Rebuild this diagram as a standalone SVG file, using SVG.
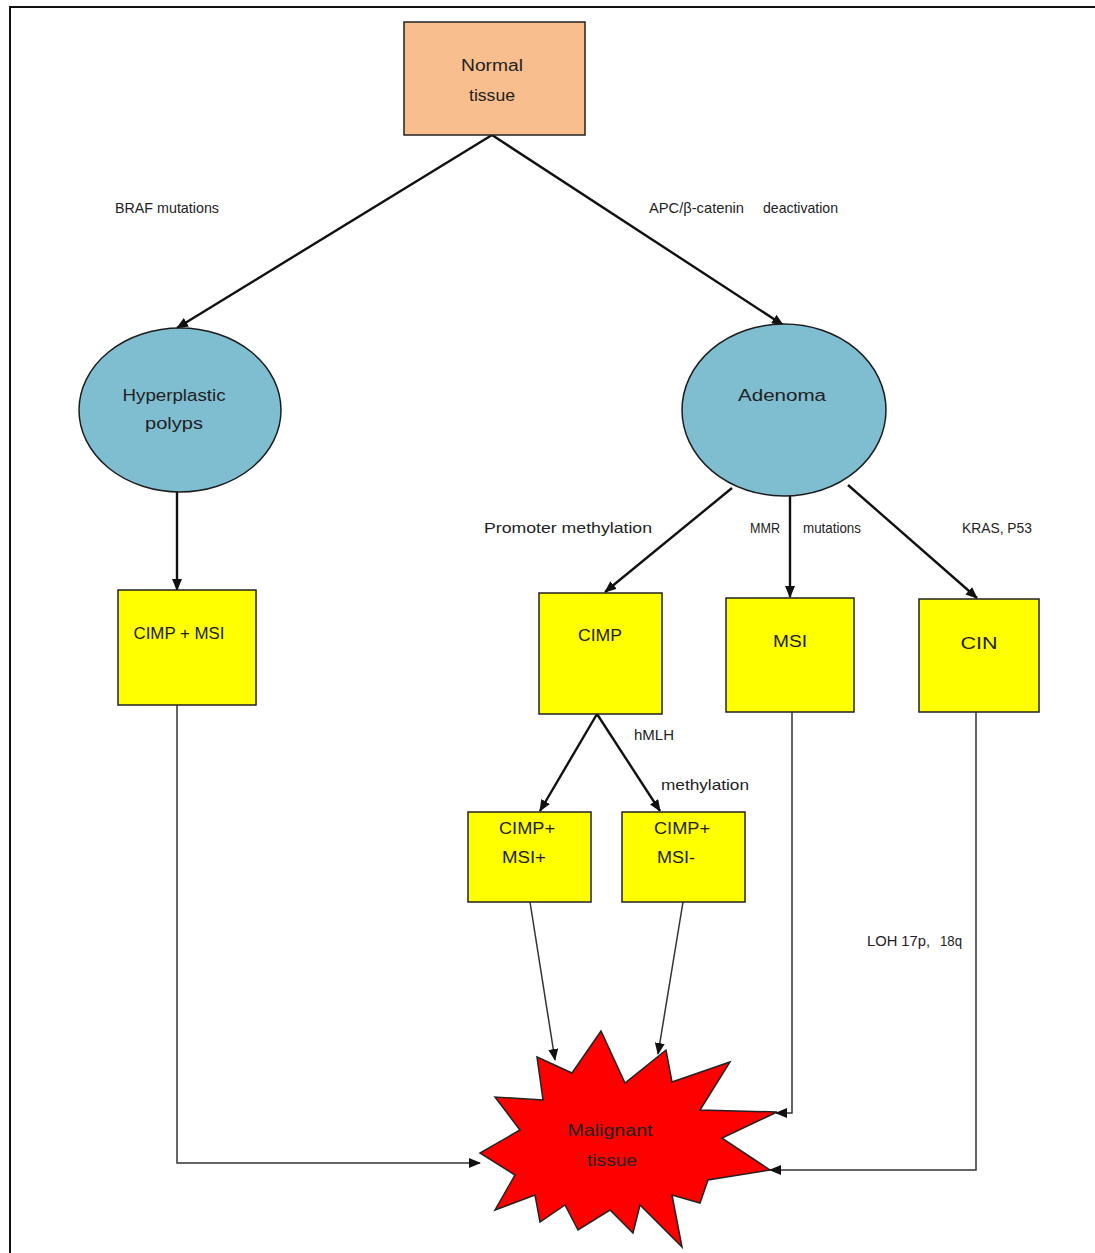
<svg xmlns="http://www.w3.org/2000/svg" width="1095" height="1253" viewBox="0 0 1095 1253">
<defs>
<marker id="ah" viewBox="0 0 12 10" refX="11" refY="5" markerWidth="12" markerHeight="10" markerUnits="userSpaceOnUse" orient="auto">
<path d="M0,0 L12,5 L0,10 z" fill="#111"/>
</marker>
</defs>
<style>
text{font-family:"Liberation Sans",Arial,sans-serif;font-size:16px;fill:#222}
.c{text-anchor:middle}
.box{stroke:#222;stroke-width:1.5}
.y{fill:#ffff00}
.el{fill:#7fbdd1;stroke:#1d1d1d;stroke-width:1.5}
.ln{fill:none;stroke:#111;stroke-width:2.4}
.ln1{fill:none;stroke:#333;stroke-width:1.5}
.lb{font-size:15px}
</style>
<rect width="1095" height="1253" fill="#fff"/>
<path d="M10,1253 V7 H1095" fill="none" stroke="#111" stroke-width="2"/>
<g id="connectors">
<line class="ln" x1="492" y1="135" x2="177" y2="328" marker-end="url(#ah)"/>
<line class="ln" x1="492" y1="135" x2="783" y2="325" marker-end="url(#ah)"/>
<line class="ln" x1="177" y1="492" x2="177" y2="590" marker-end="url(#ah)"/>
<line class="ln" x1="732" y1="488" x2="605" y2="592" marker-end="url(#ah)"/>
<line class="ln" x1="790" y1="496" x2="790" y2="597" marker-end="url(#ah)"/>
<line class="ln" x1="848" y1="485" x2="977" y2="598" marker-end="url(#ah)"/>
<line class="ln" x1="597" y1="714" x2="540" y2="811" marker-end="url(#ah)"/>
<line class="ln" x1="597" y1="714" x2="660" y2="811" marker-end="url(#ah)"/>
<line class="ln1" x1="530" y1="902" x2="555" y2="1060" marker-end="url(#ah)"/>
<line class="ln1" x1="683" y1="902" x2="658" y2="1054" marker-end="url(#ah)"/>
<polyline class="ln1" points="177,705 177,1163 480,1163" marker-end="url(#ah)"/>
<polyline class="ln1" points="792,712 792,1113 776,1113" marker-end="url(#ah)"/>
<polyline class="ln1" points="976,712 976,1170 770,1170" marker-end="url(#ah)"/>
</g>
<g id="labels">
<text class="lb" x="115" y="213" textLength="104" lengthAdjust="spacingAndGlyphs">BRAF mutations</text>
<text class="lb" x="649" y="213" textLength="95" lengthAdjust="spacingAndGlyphs">APC/β-catenin</text>
<text class="lb" x="763" y="213" textLength="75" lengthAdjust="spacingAndGlyphs">deactivation</text>
<text class="lb" x="484" y="533" textLength="168" lengthAdjust="spacingAndGlyphs">Promoter methylation</text>
<text class="lb" x="750" y="533" textLength="30" lengthAdjust="spacingAndGlyphs">MMR</text>
<text class="lb" x="803" y="533" textLength="58" lengthAdjust="spacingAndGlyphs">mutations</text>
<text class="lb" x="962" y="533" textLength="70" lengthAdjust="spacingAndGlyphs">KRAS, P53</text>
<text class="lb" x="634" y="740" textLength="40" lengthAdjust="spacingAndGlyphs">hMLH</text>
<text class="lb" x="661" y="790" textLength="88" lengthAdjust="spacingAndGlyphs">methylation</text>
<text class="lb" x="867" y="946" textLength="63" lengthAdjust="spacingAndGlyphs">LOH 17p,</text>
<text class="lb" x="940" y="946" textLength="22" lengthAdjust="spacingAndGlyphs">18q</text>
</g>
<g id="normal">
<rect class="box" x="404" y="22" width="181" height="113" fill="#f9be8e"/>
<text class="c" x="492" y="71" textLength="62" lengthAdjust="spacingAndGlyphs">Normal</text>
<text class="c" x="492" y="101" textLength="46" lengthAdjust="spacingAndGlyphs">tissue</text>
</g>
<g id="hyperplastic">
<ellipse class="el" cx="180" cy="410" rx="101" ry="82"/>
<text class="c" x="174" y="401" textLength="103" lengthAdjust="spacingAndGlyphs">Hyperplastic</text>
<text class="c" x="174" y="429" textLength="58" lengthAdjust="spacingAndGlyphs">polyps</text>
</g>
<g id="adenoma">
<ellipse class="el" cx="784" cy="410" rx="102" ry="86"/>
<text class="c" x="782" y="401" textLength="88" lengthAdjust="spacingAndGlyphs">Adenoma</text>
</g>
<g id="cimp-msi">
<rect class="box y" x="118" y="590" width="138" height="115"/>
<text class="c" x="179" y="639" textLength="91" lengthAdjust="spacingAndGlyphs">CIMP + MSI</text>
</g>
<g id="cimp">
<rect class="box y" x="539" y="593" width="123" height="121"/>
<text class="c" x="600" y="641" textLength="44" lengthAdjust="spacingAndGlyphs">CIMP</text>
</g>
<g id="msi">
<rect class="box y" x="726" y="598" width="128" height="114"/>
<text class="c" x="790" y="647" textLength="34" lengthAdjust="spacingAndGlyphs">MSI</text>
</g>
<g id="cin">
<rect class="box y" x="919" y="599" width="120" height="113"/>
<text class="c" x="979" y="649" textLength="37" lengthAdjust="spacingAndGlyphs">CIN</text>
</g>
<g id="cimp-msi-plus">
<rect class="box y" x="468" y="812" width="123" height="90"/>
<text class="c" x="527" y="834" textLength="56" lengthAdjust="spacingAndGlyphs">CIMP+</text>
<text class="c" x="524" y="863" textLength="44" lengthAdjust="spacingAndGlyphs">MSI+</text>
</g>
<g id="cimp-msi-minus">
<rect class="box y" x="622" y="812" width="123" height="90"/>
<text class="c" x="682" y="834" textLength="56" lengthAdjust="spacingAndGlyphs">CIMP+</text>
<text class="c" x="676" y="863" textLength="38" lengthAdjust="spacingAndGlyphs">MSI-</text>
</g>
<g id="malignant">
<polygon points="537,1057 572,1073 601,1031 625,1083 666,1050 672,1082 730,1062 700,1110 777,1112 722,1138 770,1170 708,1180 700,1203 672,1195 682,1247 640,1205 633,1233 610,1210 578,1230 565,1205 540,1222 535,1195 495,1210 515,1175 480,1153 520,1130 495,1097 543,1100" fill="#ff0000" stroke="#222" stroke-width="1.5" stroke-linejoin="miter"/>
<text class="c" x="610" y="1136" textLength="85" lengthAdjust="spacingAndGlyphs" fill="#3a0000">Malignant</text>
<text class="c" x="612" y="1166" textLength="50" lengthAdjust="spacingAndGlyphs" fill="#3a0000">tissue</text>
</g>
</svg>
